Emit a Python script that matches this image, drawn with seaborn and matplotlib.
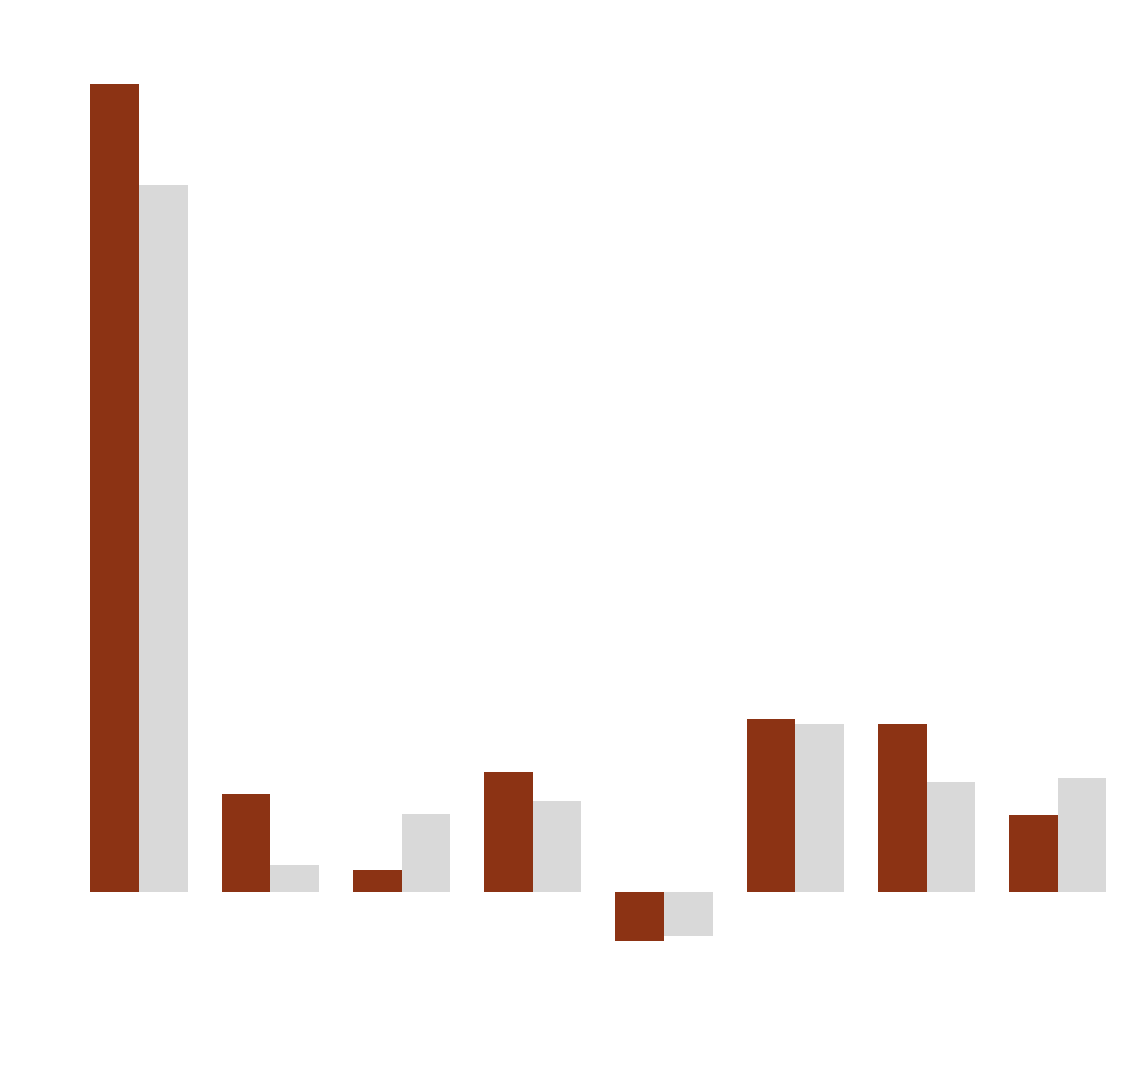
import pandas as pd
import matplotlib.pyplot as plt
import seaborn as sns

# valores
categorias = ['A', 'B', 'C', 'D', 'E', 'F', 'G', 'H']
serie_1 = [80.8, 9.8, 2.2, 12.0, -4.9, 17.3, 16.8, 7.7]
serie_2 = [70.7, 2.7, 7.8, 9.1, -4.4, 16.8, 11.0, 11.4]
nombres = ['Serie 1', 'Serie 2']
colores = ['#8C3314', '#D9D9D9']

df = pd.DataFrame({
    'categoria': categorias * 2,
    'valor': serie_1 + serie_2,
    'serie': [nombres[0]] * len(categorias) + [nombres[1]] * len(categorias),
})

sns.set_theme(style='white')
fig = plt.figure(figsize=(11.27, 10.84), dpi=100)
ax = fig.add_axes([73.4 / 1127, 42 / 1084, 1050 / 1127, 1000 / 1084])

sns.barplot(data=df, x='categoria', y='valor', hue='serie', palette=colores,
            width=0.74, linewidth=0, saturation=1, ax=ax, legend=False)

ax.set_xlim(-0.5, 7.5)
ax.set_ylim(-15, 85)
ax.set_xlabel('')
ax.set_ylabel('')
ax.set_xticks([])
ax.set_yticks([])
sns.despine(ax=ax, left=True, bottom=True)

fig.savefig('out.png', dpi=100)
